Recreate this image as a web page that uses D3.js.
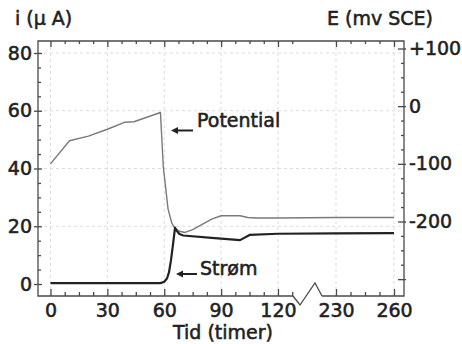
<!DOCTYPE html>
<html><head><meta charset="utf-8">
<script src="https://cdn.jsdelivr.net/npm/d3@7"></script>
<style>
body{margin:0;background:#fff}
svg text{font-family:"DejaVu Sans",sans-serif;fill:#222;stroke:#222;stroke-width:0.55px;font-size:19px}
</style></head><body>
<svg id="c" width="462" height="344"></svg>
<script>
// ---- data ----
const timeTicks = [0, 30, 60, 90, 120, 230, 260];
const timeMinorTicks = [7.5, 15, 22.5, 37.5, 45, 52.5, 67.5, 75, 82.5, 97.5, 105, 112.5, 127.5, 237.5, 245, 252.5];
const currentTicks = [0, 20, 40, 60, 80];
const currentMinorTicks = [5, 10, 15, 25, 30, 35, 45, 50, 55, 65, 70, 75];
const potentialTicks = [100, 0, -100, -200, -300];
const potentialTickLabels = ["+100", "0", "-100", "-200", ""];
const potentialMinorTicks = [75, 50, 25, -25, -50, -75, -125, -150, -175, -225, -250, -275];

const potentialTime   = [0, 10, 20, 30, 39, 44, 58, 59.5, 62, 64, 65.5, 68, 71, 75, 80, 85, 90, 100, 104, 109, 120, 230, 260];
const potentialValues = [-100, -60, -52, -40, -28, -27, -11, -105, -178, -203, -211, -217, -219, -214, -205, -196, -190, -190, -193, -194, -194, -193, -193];

const currentTime   = [0, 58, 60, 61.5, 62.5, 63.5, 64.5, 65.7, 66.5, 68, 70, 85, 100, 105, 120, 230, 260];
const currentValues = [0.3, 0.3, 0.8, 2, 4, 8, 13, 19.5, 18.5, 17.3, 16.8, 16, 15.2, 17, 17.4, 17.5, 17.6];

const labelCurrent = "i (\u03bc A)";
const labelPotential = "E (mv SCE)";
const labelTime = "Tid (timer)";

// ---- layout ----
const L = 38, R = 404, T = 41, B = 296;
const breakL = 293, breakR = 322;

const svg = d3.select("#c");

// piecewise time scale with a break between 127.5 and 222.5
const x = d3.scaleLinear().domain([0, 127.5, 222.5, 260]).range([50.5, 292.2, 321.5, 394]);
const yI = d3.scaleLinear().domain([0, 80]).range([284, 53]);
const yE = d3.scaleLinear().domain([-200, 100]).range([221.5, 48.5]);

// faint grid
const grid = svg.append("g").attr("stroke", "#dcdcdc").attr("stroke-dasharray", "3,3").attr("stroke-width", 1);
grid.selectAll(".gx").data(timeTicks).join("line")
  .attr("x1", d => x(d)).attr("x2", d => x(d)).attr("y1", T).attr("y2", B);
grid.selectAll(".gy").data(currentTicks.slice(1)).join("line")
  .attr("x1", L).attr("x2", R).attr("y1", d => yI(d)).attr("y2", d => yI(d));

// frame
const frame = svg.append("g").attr("stroke", "#4a4a4a").attr("stroke-width", 1.3).attr("fill", "none");
frame.append("path").attr("d", `M${breakL},${B}H${L}V${T}H${R}V${B}H${breakR}`);
frame.append("path").attr("d", `M${breakL},${B}L${breakL + 7},${B + 9}L${breakR - 7},${B - 13}L${breakR},${B}`);

function styleAxis(g) {
  g.select(".domain").remove();
  g.selectAll(".tick line").attr("stroke", "#4a4a4a").attr("stroke-width", 1.3);
  g.selectAll(".tick text").attr("font-size", 19).attr("fill", "#222").attr("font-family", "DejaVu Sans");
}

// bottom axis
svg.append("g").attr("transform", `translate(0,${B})`)
  .call(d3.axisBottom(x).tickValues(timeTicks).tickSize(-7).tickPadding(8).tickFormat(d3.format("d")))
  .call(styleAxis);
svg.append("g").attr("transform", `translate(0,${B})`)
  .call(d3.axisBottom(x).tickValues(timeMinorTicks).tickSize(-4).tickFormat(""))
  .call(styleAxis);
// top axis
svg.append("g").attr("transform", `translate(0,${T})`)
  .call(d3.axisTop(x).tickValues(timeTicks).tickSize(-6).tickFormat(""))
  .call(styleAxis);
svg.append("g").attr("transform", `translate(0,${T})`)
  .call(d3.axisTop(x).tickValues(timeMinorTicks).tickSize(-3).tickFormat(""))
  .call(styleAxis);

// left axis
svg.append("g").attr("transform", `translate(${L},0)`)
  .call(d3.axisLeft(yI).tickValues(currentTicks).tickSize(4).tickPadding(2).tickFormat(d3.format("d")))
  .call(styleAxis);
svg.append("g").attr("transform", `translate(${L},0)`)
  .call(d3.axisRight(yI).tickValues(currentTicks).tickSize(4).tickFormat(""))
  .call(styleAxis);
svg.append("g").attr("transform", `translate(${L},0)`)
  .call(d3.axisRight(yI).tickValues(currentMinorTicks).tickSize(3).tickFormat(""))
  .call(styleAxis);

// right axis
svg.append("g").attr("transform", `translate(${R},0)`)
  .call(d3.axisRight(yE).tickValues(potentialTicks).tickSize(2).tickPadding(3)
    .tickFormat((d, i) => potentialTickLabels[i]))
  .call(styleAxis);
svg.append("g").attr("transform", `translate(${R},0)`)
  .call(d3.axisLeft(yE).tickValues(potentialTicks).tickSize(6).tickFormat(""))
  .call(styleAxis);
svg.append("g").attr("transform", `translate(${R},0)`)
  .call(d3.axisLeft(yE).tickValues(potentialMinorTicks).tickSize(3).tickFormat(""))
  .call(styleAxis);

// lines
const potLine = d3.line().x(d => x(d[0])).y(d => yE(d[1]));
svg.append("path").datum(d3.zip(potentialTime, potentialValues))
  .attr("d", potLine).attr("fill", "none").attr("stroke", "#7a7a7a").attr("stroke-width", 1.4)
  .attr("stroke-linejoin", "round");

const curLine = d3.line().x(d => x(d[0])).y(d => yI(d[1]));
svg.append("path").datum(d3.zip(currentTime, currentValues))
  .attr("d", curLine).attr("fill", "none").attr("stroke", "#222").attr("stroke-width", 2.2)
  .attr("stroke-linejoin", "round");

// titles
svg.append("text").attr("x", 15).attr("y", 25).text(labelCurrent);
svg.append("text").attr("x", 327).attr("y", 25).text(labelPotential);
svg.append("text").attr("x", 223).attr("y", 339).attr("text-anchor", "middle").text(labelTime);

// annotations with arrows
function arrow(x1, x2, y) {
  svg.append("line").attr("x1", x1 + 5).attr("x2", x2).attr("y1", y).attr("y2", y)
    .attr("stroke", "#222").attr("stroke-width", 2);
  svg.append("path").attr("d", `M${x1},${y}l7,-3.5v7z`).attr("fill", "#222");
}
svg.append("text").attr("x", 197).attr("y", 127).text("Potential");
arrow(171, 193, 130.5);
svg.append("text").attr("x", 200).attr("y", 275).text("Str\u00f8m");
arrow(176, 197, 274);
</script>
</body></html>
